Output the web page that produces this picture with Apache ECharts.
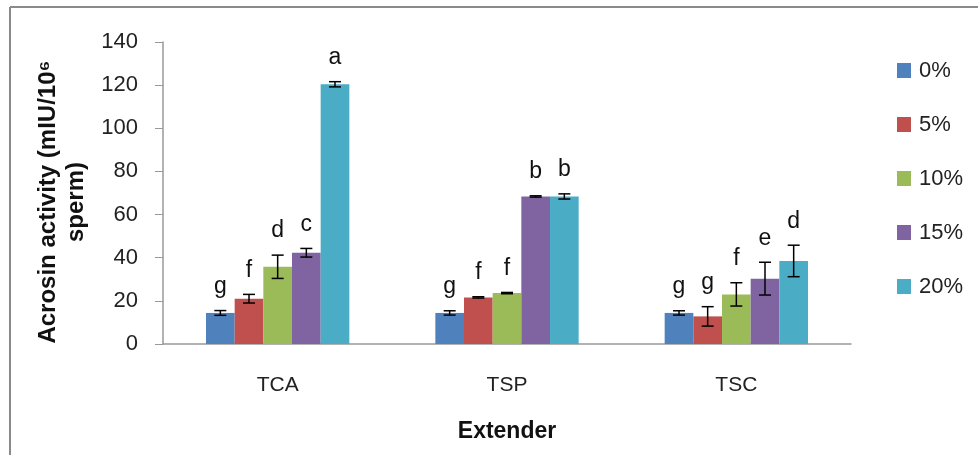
<!DOCTYPE html>
<html>
<head>
<meta charset="utf-8">
<script src="https://cdn.jsdelivr.net/npm/echarts@6/dist/echarts.min.js"></script>
<style>
html,body{margin:0;padding:0;background:#fff;}
#chart{width:978px;height:455px;}
</style>
</head>
<body>
<div id="chart"></div>
<script>
const categories = ['TCA', 'TSP', 'TSC'];
const seriesNames = ['0%', '5%', '10%', '15%', '20%'];
const colors = ['#4F81BD', '#C0504D', '#9BBB59', '#8064A2', '#4BACC6'];

const values0 = [14.4, 14.4, 14.4];
const values5 = [21.0, 21.6, 12.8];
const values10 = [35.8, 23.6, 23.0];
const values15 = [42.3, 68.4, 30.3];
const values20 = [120.4, 68.4, 38.5];

const errors0 = [1.1, 1.0, 1.0];
const errors5 = [2.0, 0.3, 4.5];
const errors10 = [5.4, 0.3, 5.4];
const errors15 = [2.0, 0.3, 7.6];
const errors20 = [1.2, 1.2, 7.3];

const letters0 = ['g', 'g', 'g'];
const letters5 = ['f', 'f', 'g'];
const letters10 = ['d', 'f', 'f'];
const letters15 = ['c', 'b', 'e'];
const letters20 = ['a', 'b', 'd'];

const yTicks = [0, 20, 40, 60, 80, 100, 120, 140];

const allValues = [values0, values5, values10, values15, values20];
const allErrors = [errors0, errors5, errors10, errors15, errors20];
const allLetters = [letters0, letters5, letters10, letters15, letters20];

const FONT = 'Liberation Sans';
const CAT_GAP = 0.375;
const N = seriesNames.length;

const series = [];
seriesNames.forEach((name, k) => {
  series.push({
    name: name,
    type: 'bar',
    data: allValues[k],
    itemStyle: { color: colors[k] },
    barGap: '0%',
    barCategoryGap: (CAT_GAP * 100) + '%',
    z: 2
  });
});
seriesNames.forEach((name, k) => {
  const letters = allLetters[k];
  series.push({
    type: 'custom',
    z: 5,
    data: categories.map((c, i) => [i, allValues[k][i], allErrors[k][i]]),
    encode: { x: 0, y: 1 },
    renderItem: function (params, api) {
      const cat = api.value(0);
      const val = api.value(1);
      const err = api.value(2);
      const catW = api.size([1, 0])[0];
      const bw = catW * (1 - CAT_GAP) / N;
      const center = api.coord([cat, val]);
      const x = center[0] + (k - (N - 1) / 2) * bw;
      const top = api.coord([cat, val + err])[1];
      const bot = api.coord([cat, val - err])[1];
      const cap = 6;
      const st = { stroke: '#000', lineWidth: 1.5 };
      return {
        type: 'group',
        children: [
          { type: 'line', shape: { x1: x, y1: top, x2: x, y2: bot }, style: st },
          { type: 'line', shape: { x1: x - cap, y1: top, x2: x + cap, y2: top }, style: st },
          { type: 'line', shape: { x1: x - cap, y1: bot, x2: x + cap, y2: bot }, style: st },
          { type: 'text', style: { text: letters[params.dataIndex], x: x, y: top - 24,
              align: 'center', verticalAlign: 'middle', fontSize: 23, fontFamily: FONT, fill: '#111' } }
        ]
      };
    }
  });
});

const chart = echarts.init(document.getElementById('chart'));
chart.setOption({
  animation: false,
  backgroundColor: '#fff',
  grid: { left: 163, right: 127, top: 42, bottom: 111, containLabel: false },
  legend: {
    data: seriesNames,
    orient: 'vertical',
    left: 897,
    top: 58,
    padding: 0,
    itemWidth: 14,
    itemHeight: 15,
    itemGap: 29,
    icon: 'rect',
    textStyle: { fontSize: 22, fontFamily: FONT, color: '#222', lineHeight: 25, padding: [0, 0, 0, 3] }
  },
  xAxis: {
    type: 'category',
    data: categories,
    name: 'Extender',
    nameLocation: 'middle',
    nameGap: 76,
    nameTextStyle: { fontSize: 23, fontWeight: 'bold', fontFamily: FONT, color: '#111' },
    axisLine: { lineStyle: { color: '#999', width: 1.5 } },
    axisTick: { show: false },
    axisLabel: { fontSize: 21, fontFamily: FONT, color: '#222', margin: 31 }
  },
  yAxis: {
    type: 'value',
    min: yTicks[0],
    max: yTicks[yTicks.length - 1],
    interval: yTicks[1] - yTicks[0],
    name: 'Acrosin activity (mIU/10⁶\nsperm)',
    nameLocation: 'middle',
    nameRotate: 90,
    nameGap: 73,
    nameTextStyle: { fontSize: 24, fontWeight: 'bold', fontFamily: FONT, color: '#111', lineHeight: 28, padding: [0, 18, 0, 0] },
    splitLine: { show: false },
    axisLine: { show: true, lineStyle: { color: '#999', width: 1.5 } },
    axisTick: { show: true, length: 8, lineStyle: { color: '#999' } },
    axisLabel: { fontSize: 22, fontFamily: FONT, color: '#222', margin: 25 }
  },
  graphic: [
    { type: 'line', shape: { x1: 10, y1: 7, x2: 978, y2: 7 }, style: { stroke: '#8a8a8a', lineWidth: 2 } },
    { type: 'line', shape: { x1: 10, y1: 7, x2: 10, y2: 455 }, style: { stroke: '#8a8a8a', lineWidth: 2 } }
  ],
  series: series
});
</script>
</body>
</html>
